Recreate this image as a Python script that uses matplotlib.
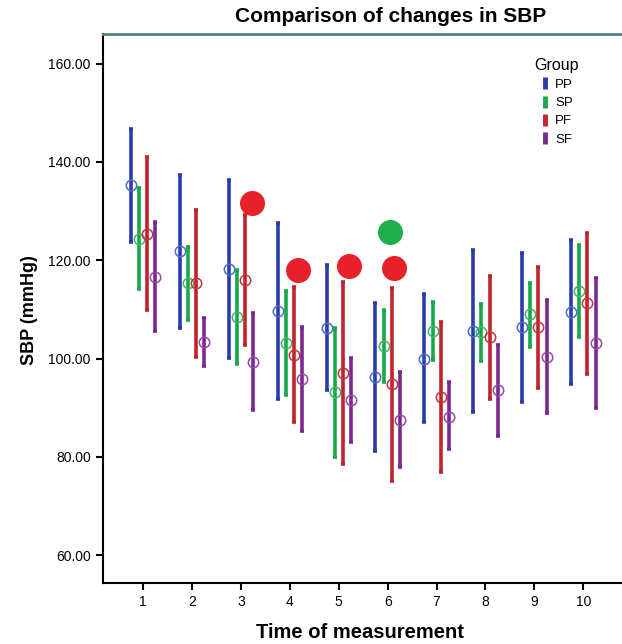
import matplotlib
matplotlib.use("Agg")
import matplotlib.pyplot as plt
from matplotlib.lines import Line2D
import numpy as np

plt.rcParams['font.family'] = ['Liberation Sans', 'DejaVu Sans']

times = [1, 2, 3, 4, 5, 6, 7, 8, 9, 10]
groups = ['PP', 'SP', 'PF', 'SF']

pp_mean = [135.3, 121.8, 118.3, 109.7, 106.3, 96.2, 100.0, 105.6, 106.4, 109.5]
pp_low = [123.7, 106.3, 100.2, 91.8, 93.5, 81.2, 87.0, 89.2, 91.2, 94.8]
pp_high = [146.8, 137.4, 136.3, 127.6, 119.1, 111.3, 113.1, 122.1, 121.4, 124.2]

sp_mean = [124.4, 115.3, 108.5, 103.1, 93.1, 102.5, 105.6, 105.3, 109.0, 113.7]
sp_low = [114.2, 107.8, 98.8, 92.6, 79.9, 95.2, 99.7, 99.6, 102.4, 104.3]
sp_high = [134.6, 122.7, 118.1, 113.7, 106.3, 109.8, 111.6, 111.1, 115.4, 123.1]

pf_mean = [125.4, 115.3, 115.9, 100.7, 97.1, 94.8, 92.1, 104.3, 106.4, 111.2]
pf_low = [109.8, 100.3, 102.8, 87.1, 78.5, 75.1, 77.0, 91.7, 94.1, 96.9]
pf_high = [141.0, 130.3, 129.2, 114.5, 115.6, 114.4, 107.4, 116.8, 118.7, 125.6]

sf_mean = [116.6, 103.4, 99.3, 95.8, 91.6, 87.5, 88.2, 93.5, 100.4, 103.1]
sf_low = [105.6, 98.4, 89.6, 85.3, 83.1, 78.0, 81.5, 84.2, 89.0, 90.0]
sf_high = [127.8, 108.3, 109.2, 106.5, 100.2, 97.3, 95.2, 102.8, 112.0, 116.3]

# marks added on top of the chart
red_x = [3.22, 4.16, 5.21, 6.13]
red_y = [131.7, 118.1, 118.9, 118.5]
green_x = [6.04]
green_y = [125.7]

means = [pp_mean, sp_mean, pf_mean, sf_mean]
lows = [pp_low, sp_low, pf_low, sf_low]
highs = [pp_high, sp_high, pf_high, sf_high]
colors = ['#2b3dab', '#17a84a', '#c0242c', '#7a2a8e']
circ_colors = ['#4a6ad4', '#3cb85e', '#c8323a', '#9a45b0']
offsets = [-0.25, -0.083, 0.083, 0.25]

fig = plt.figure(figsize=(6.22, 6.44), dpi=100)
ax = fig.add_axes([0.165, 0.095, 0.93, 0.852])

x = np.array(times)
for i in range(4):
    m = np.array(means[i])
    lo = m - np.array(lows[i])
    hi = np.array(highs[i]) - m
    ax.errorbar(x + offsets[i], m, yerr=[lo, hi], fmt='none', ecolor=colors[i],
                elinewidth=2.6, capsize=1.2, capthick=2.6)
    ax.plot(x + offsets[i], m, 'o', mfc='none', mec=circ_colors[i], ms=7.5, mew=1.1)

ax.plot(red_x, red_y, 'o', color='#e8202a', ms=17)
ax.plot(green_x, green_y, 'o', color='#1fb04a', ms=17)

ax.set_xlim(0.172, 12.0)
ax.set_ylim(54.37, 166.0)
ax.set_xticks(times)
ax.set_yticks([60, 80, 100, 120, 140, 160])
ax.set_yticklabels(['%.2f' % v for v in [60, 80, 100, 120, 140, 160]])
ax.tick_params(labelsize=10, length=5, width=1.5, direction='out', colors='black')

ax.spines['right'].set_visible(False)
ax.spines['top'].set_color('#4f8585')
ax.spines['top'].set_linewidth(2)
ax.spines['left'].set_linewidth(1.5)
ax.spines['bottom'].set_linewidth(1.5)

fig.text(391 / 622, 1 - 17 / 644, 'Comparison of changes in SBP', ha='center', va='center',
         fontsize=15, fontweight='bold')
fig.text(360 / 622, 1 - 632 / 644, 'Time of measurement', ha='center', va='center',
         fontsize=14.5, fontweight='bold')
fig.text(30 / 622, 1 - 310 / 644, 'SBP (mmHg)', ha='center', va='center', rotation=90,
         fontsize=13, fontweight='bold')

handles = [Line2D([], [], color=c, marker='|', ms=9, mew=3.5, ls='none') for c in colors]
leg = ax.legend(handles, groups, title='Group', loc='upper left',
                bbox_to_anchor=(522 / 622, 1 - 46 / 644), bbox_transform=fig.transFigure,
                frameon=False, fontsize=9.5, title_fontsize=11.5, handlelength=0.8,
                handletextpad=0.4, labelspacing=0.45)

fig.savefig('out.png', dpi=100)
